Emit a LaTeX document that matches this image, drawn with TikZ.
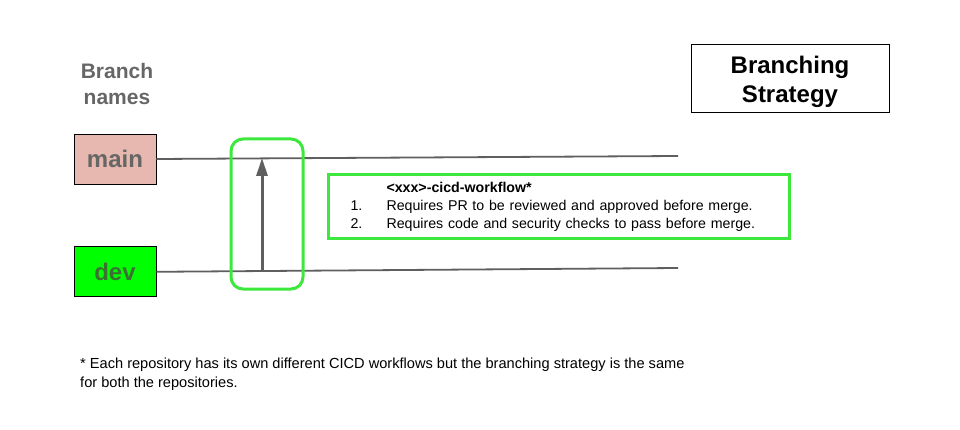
\documentclass[tikz,border=0pt]{standalone}
\usepackage{fontspec}
\setmainfont{Liberation Sans}
\usetikzlibrary{positioning,arrows.meta}
\definecolor{labelgray}{RGB}{102,102,102}
\definecolor{linegray}{RGB}{95,95,95}
\definecolor{mainpink}{RGB}{230,184,175}
\definecolor{devgreen}{RGB}{0,255,0}
\definecolor{devtext}{RGB}{60,112,50}
\definecolor{gategreen}{RGB}{60,232,60}

\begin{document}
\begin{tikzpicture}[x=1pt,y=-1pt]

          % Definitions
          \tikzstyle{branch} = [rectangle, minimum width=82pt, minimum height=50pt, text centered, draw=black, line width=0.8pt, font=\fontsize{24}{28}\selectfont\bfseries]
          \tikzstyle{title} = [rectangle, minimum width=198pt, minimum height=68pt, text centered, align=center, text depth=0pt, draw=black, line width=1pt, font=\fontsize{24}{29}\selectfont\bfseries]
          \tikzstyle{gate} = [rectangle, rounded corners=12pt, minimum width=72pt, minimum height=150pt, draw=gategreen, line width=3pt]
          \tikzstyle{rules} = [rectangle, minimum width=461pt, minimum height=64pt, inner xsep=22pt, text width=417pt, align=left, draw=gategreen, line width=3pt, font=\fontsize{14.2}{18}\selectfont]
          \tikzstyle{branchline} = [linegray, line width=1.8pt]
          \tikzstyle{arrow} = [linegray, line width=3pt, -{Triangle[length=18pt,width=11pt]}]

          \useasboundingbox (0,0) rectangle (960,430);

          \node (names) [align=center, text=labelgray, font=\fontsize{21}{26}\selectfont\bfseries] at (117,84) {Branch\\names};
          \node (title) [title] at (790,79) {Branching\\Strategy};

          \node (main) [branch, fill=mainpink, text=labelgray] at (115,159) {main};
          \node (dev) [branch, fill=devgreen, text=devtext, below=62pt of main] {dev};

          \coordinate (mainEnd) at (678,156);
          \coordinate (devEnd) at (678,268);
          \coordinate (mergeFrom) at (262,270.5);
          \coordinate (mergeTo) at (262,158);

          \draw [branchline] (main.east) -- (mainEnd);
          \draw [branchline] (dev.east) -- (devEnd);

          \node (gate) [gate] at (267,214) {};
          \draw [arrow] (mergeFrom) -- (mergeTo);

          \node (workflow) [rules, anchor=north west] at (327,173) {%
            \begin{tabular}{@{}p{36pt}@{}l@{}}
              & \textbf{<xxx>-cicd-workflow*}\\
              1. & Requires PR to be reviewed and approved before merge.\\
              2. & Requires code and security checks to pass before merge.
            \end{tabular}};

          \node (note) [anchor=north west, inner sep=0pt, align=left, font=\fontsize{14.6}{19}\selectfont] at (80,358) {* Each repository has its own different CICD workflows but the branching strategy is the same\\for both the repositories.};

\end{tikzpicture}
\end{document}
